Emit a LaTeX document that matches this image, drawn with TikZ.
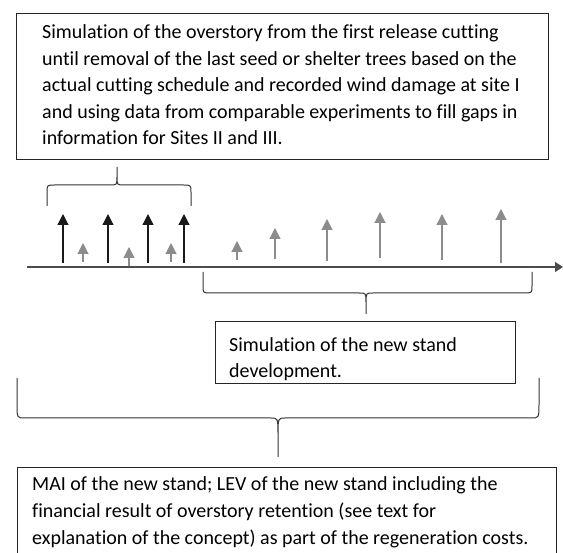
\documentclass[tikz,border=0pt]{standalone}
\usepackage{fontspec}
\setmainfont{Carlito}[Ligatures=NoCommon]
\usetikzlibrary{arrows.meta}

\tikzset{
  box/.style={draw=black!85,line width=1.1pt,inner sep=0pt,anchor=north west},
  txt/.style={anchor=base west,inner sep=0pt,align=left,font=\fontsize{20}{26.6}\selectfont},
  cutting/.style={-{Triangle[width=11pt,length=11pt]},line width=1.2pt,black!90},
  regrowth/.style={-{Triangle[width=11pt,length=11pt]},line width=1.2pt,black!45},
  curly/.style={line width=1pt,black!80}
}

% #1,#2 ends, #3 end height, #4 bar height, #5 tip x, #6 tip height
\newcommand{\curlybrace}[6]{%
  \draw[curly] (#1,#3) -- (#1,{#4+0.35*(#3-#4)})
    .. controls (#1,#4) .. ({#1+8},#4) -- ({#5-7},#4)
    .. controls (#5,#4) .. (#5,{#4+0.45*(#6-#4)}) -- (#5,#6)
    (#5,{#4+0.45*(#6-#4)}) .. controls (#5,#4) .. ({#5+7},#4)
    -- ({#2-8},#4) .. controls (#2,#4) .. (#2,{#4+0.35*(#3-#4)}) -- (#2,#3);
}

\begin{document}
\begin{tikzpicture}[x=1pt,y=-1pt]
  \useasboundingbox (0,0) rectangle (563,553);
  \path[clip] (0,0) rectangle (563,553);

  % overstory box (text node sits on its last baseline)
  \node[box,minimum width=532pt,minimum height=146pt] (overstory) at (16,13) {};
  \node[txt] (overstorytext) at (42,145) {Simulation of the overstory from the first release cutting\\
    until removal of the last seed or shelter trees based on the\\
    actual cutting schedule and recorded wind damage at site I\\
    and using data from comparable experiments to fill gaps in\\
    information for Sites II and III.};

  \curlybrace{47}{191}{206}{185}{117}{167}

  % time axis
  \coordinate (start) at (27,267);
  \coordinate (end) at (563,267);
  \draw[line width=1.3pt,black!70,-{Triangle[width=10pt,length=8pt]}] (start) -- (end);

  % cuttings of the overstory
  \foreach \x in {63,108,148,184}
    \draw[cutting] (\x,263) -- (\x,214);

  % regeneration
  \foreach \x/\b/\t in {83/262/243,129/266/247,171/262/243,237/260/241,275/259/228,
                        327/261/219,380/258/212,442/260/214,501/263/209}
    \draw[regrowth] (\x,\b) -- (\x,\t);

  \curlybrace{203}{532}{272}{293}{366}{314}

  % new stand box
  \begin{scope}
    \clip (215,321) rectangle (515,383);
    \node[txt] (standtext) at (229,378) {Simulation of the new stand\\development.};
  \end{scope}
  \node[box,minimum width=300pt,minimum height=62pt] (stand) at (215,321) {};

  \curlybrace{17}{539}{378}{418}{278}{457}

  % result box
  \node[box,minimum width=539pt,minimum height=120pt] (result) at (17,467) {};
  \node[txt] (resulttext) at (32,544) {MAI of the new stand; LEV of the new stand including the\\
    financial result of overstory retention (see text for\\
    explanation of the concept) as part of the regeneration costs.};
\end{tikzpicture}
\end{document}
